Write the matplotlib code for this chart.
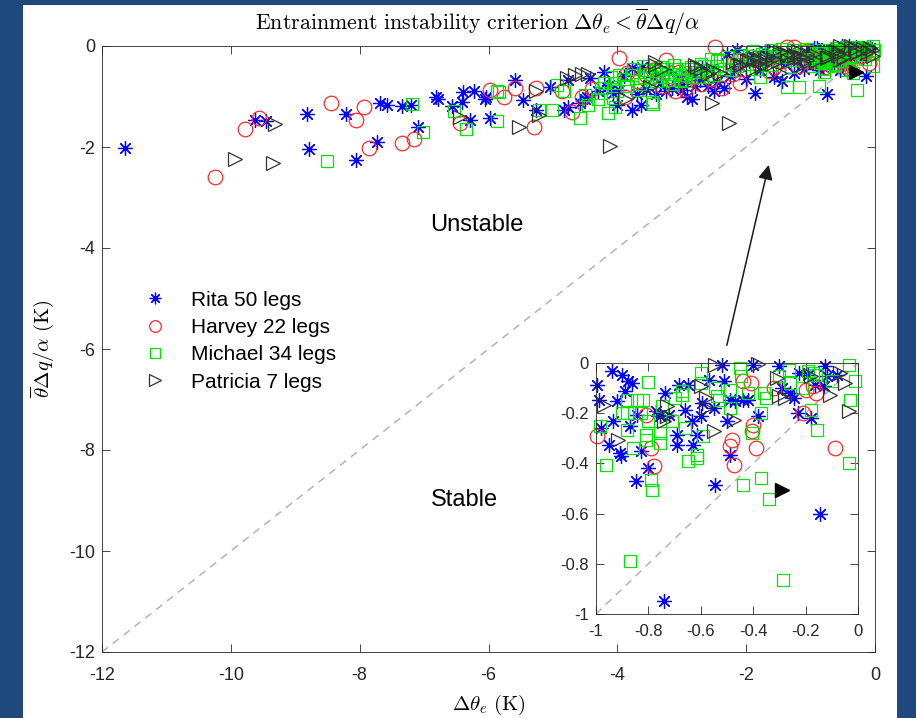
import numpy as np
import matplotlib.pyplot as plt
from matplotlib.patches import Rectangle
from matplotlib.ticker import FormatStrFormatter

plt.rcParams['mathtext.fontset'] = 'cm'
plt.rcParams['axes.unicode_minus'] = False
plt.rcParams['font.family'] = ['Liberation Sans', 'DejaVu Sans']

# (delta theta_e, thetabar*delta q/alpha) pairs in K
rita = [
    (-11.64, -2.01), (-9.63, -1.47), (-9.46, -1.48), (-8.82, -1.35), (-8.78, -2.03),
    (-8.21, -1.35), (-8.06, -2.26), (-7.73, -1.91), (-7.69, -1.13), (-7.58, -1.17),
    (-7.34, -1.19), (-7.21, -1.17), (-7.10, -1.61), (-6.81, -1.00), (-6.79, -1.05),
    (-6.56, -1.19), (-6.41, -1.10), (-6.40, -0.92), (-6.23, -0.90), (-6.28, -1.47),
    (-6.04, -1.00), (-5.97, -1.43), (-6.05, -1.04), (-5.59, -0.67), (-5.46, -1.07),
    (-5.27, -1.27), (-5.04, -0.81), (-4.83, -1.27), (-4.76, -0.67), (-4.58, -1.13),
    (-4.47, -1.00), (-4.21, -0.51), (-4.16, -0.81), (-4.01, -1.17), (-3.77, -1.27),
    (-3.64, -1.17), (-3.62, -0.41), (-4.76, -1.20), (-4.50, -1.04), (-4.42, -0.64),
    (-4.13, -0.77), (-4.06, -0.94), (-3.98, -0.87), (-3.77, -0.44), (-3.33, -0.74),
    (-3.15, -0.84), (-2.99, -0.87), (-2.92, -1.00), (-2.84, -1.04), (-2.71, -0.67),
    (-2.68, -0.41), (-2.45, -0.71), (-2.35, -0.84), (-2.30, -0.15), (-2.14, -0.08),
    (-2.19, -0.48), (-1.86, -0.94), (-1.78, -0.48), (-1.57, -0.61), (-1.26, -0.54),
    (-3.45, -0.62), (-3.05, -0.60), (-2.85, -0.55), (-1.95, -0.30), (-1.65, -0.25),
    (-1.40, -0.35), (-1.15, -0.22), (-3.20, -0.50), (-2.55, -0.45), (-2.00, -0.65),
    (-1.45, -0.70), (-1.10, -0.45), (-3.70, -0.95), (-3.55, -0.85), (-3.40, -0.95),
    (-3.25, -0.90), (-3.00, -0.75), (-2.80, -0.80), (-2.60, -0.80), (-2.50, -0.90),
    (-2.25, -0.60), (-2.10, -0.40), (-1.90, -0.20), (-1.70, -0.10), (-1.50, -0.15),
    (-1.30, -0.10), (-1.20, -0.30), (-1.05, -0.20), (-4.30, -0.90), (-3.90, -0.60),
    (-0.995, -0.086), (-0.99, -0.146), (-0.98, -0.26), (-0.95, -0.325), (-0.94, -0.03),
    (-0.935, -0.23), (-0.92, -0.153), (-0.91, -0.36), (-0.905, -0.37), (-0.90, -0.046),
    (-0.877, -0.073), (-0.864, -0.08), (-0.89, -0.113), (-0.87, -0.25), (-0.845, -0.206),
    (-0.83, -0.35), (-0.847, -0.47), (-0.80, -0.42), (-0.77, -0.19), (-0.755, -0.21),
    (-0.736, -0.12), (-0.72, -0.206), (-0.69, -0.285), (-0.69, -0.325), (-0.685, -0.086),
    (-0.65, -0.086), (-0.66, -0.186), (-0.635, -0.23), (-0.63, -0.325), (-0.615, -0.285),
    (-0.74, -0.95), (-0.60, -0.21), (-0.596, -0.16), (-0.57, -0.066), (-0.55, -0.18),
    (-0.545, -0.485), (-0.52, -0.007), (-0.51, -0.073), (-0.50, -0.23), (-0.49, -0.365),
    (-0.49, -0.146), (-0.47, -0.153), (-0.44, -0.146), (-0.42, -0.146), (-0.40, -0.007),
    (-0.38, -0.21), (-0.30, -0.013), (-0.29, -0.10), (-0.26, -0.12), (-0.245, -0.14),
    (-0.23, -0.20), (-0.227, -0.04), (-0.19, -0.046), (-0.18, -0.22), (-0.144, -0.60),
    (-0.13, -0.093), (-0.125, -0.013), (-0.12, -0.053), (-0.08, -0.046), (-0.163, -0.086),
]
harvey = [
    (-10.24, -2.59), (-9.78, -1.64), (-9.57, -1.43), (-8.44, -1.13), (-8.06, -1.47),
    (-7.93, -1.20), (-7.86, -2.02), (-7.34, -1.93), (-7.16, -1.85), (-6.45, -1.53),
    (-5.97, -0.87), (-5.76, -1.00), (-5.59, -0.84), (-5.30, -1.60), (-5.27, -0.84),
    (-4.86, -0.90), (-4.70, -1.30), (-3.98, -0.24), (-3.85, -0.54), (-3.88, -1.00),
    (-3.56, -0.57), (-3.44, -0.48), (-3.25, -0.28), (-3.10, -0.90), (-3.05, -0.51),
    (-2.48, -0.01), (-2.37, -0.84), (-2.09, -0.74), (-1.93, -0.21), (-1.36, -0.01),
    (-1.26, -0.01), (-1.57, -0.41), (-2.80, -0.62), (-2.20, -0.55), (-1.10, -0.30),
    (-3.70, -0.70), (-3.30, -0.80), (-2.95, -0.85), (-2.70, -0.75), (-2.55, -0.65),
    (-2.15, -0.30), (-1.80, -0.35), (-1.65, -0.50), (-1.45, -0.30), (-1.20, -0.40),
    (-1.05, -0.10), (-4.40, -0.85), (-4.55, -1.00),
    (-0.995, -0.29), (-0.81, -0.206), (-0.79, -0.34), (-0.78, -0.41), (-0.44, -0.073),
    (-0.41, -0.08), (-0.48, -0.305), (-0.49, -0.33), (-0.475, -0.405), (-0.40, -0.246),
    (-0.405, -0.27), (-0.39, -0.34), (-0.32, -0.10), (-0.20, -0.106), (-0.16, -0.12),
    (-0.21, -0.20), (-0.087, -0.34), (-0.17, -0.09),
]
michael = [
    (-8.51, -2.28), (-7.19, -1.15), (-7.02, -1.71), (-6.54, -1.29), (-6.35, -1.64),
    (-5.87, -0.90), (-5.87, -1.49), (-5.84, -0.92), (-5.22, -1.27), (-5.02, -1.27),
    (-4.94, -0.77), (-4.58, -1.43), (-4.50, -0.98), (-4.26, -0.84), (-4.14, -1.33),
    (-4.07, -1.02), (-3.46, -1.10), (-4.03, -1.20), (-4.45, -1.17), (-4.83, -0.90),
    (-4.26, -0.94), (-4.21, -0.74), (-4.05, -0.74), (-3.98, -0.57), (-3.77, -0.57),
    (-3.69, -0.87), (-3.51, -0.87), (-3.44, -1.14), (-3.59, -0.61), (-3.33, -0.41),
    (-3.23, -0.61), (-3.12, -0.38), (-3.02, -0.67), (-2.86, -0.61), (-2.71, -0.48),
    (-2.61, -0.61), (-2.55, -0.25), (-2.40, -0.28), (-2.24, -0.48), (-1.98, -0.35),
    (-1.78, -0.61), (-1.67, -0.28), (-1.36, -0.81), (-1.18, -0.81), (-1.26, -0.28),
    (-1.95, -0.20), (-1.75, -0.15), (-1.55, -0.22), (-1.40, -0.12), (-1.20, -0.18),
    (-1.10, -0.10), (-2.20, -0.35), (-2.05, -0.25), (-2.90, -0.45), (-3.40, -0.70),
    (-3.65, -0.75), (-3.85, -0.80), (-3.30, -0.55), (-2.70, -0.35), (-3.15, -0.75),
    (-2.95, -0.52), (-3.55, -0.48), (-1.60, -0.38), (-1.30, -0.42), (-1.85, -0.45),
    (-2.45, -0.40), (-3.75, -0.45), (-3.60, -0.40), (-3.50, -0.55), (-3.40, -0.50),
    (-3.35, -0.62), (-3.25, -0.45), (-3.20, -0.68), (-3.10, -0.55), (-3.05, -0.45),
    (-3.00, -0.58), (-2.95, -0.70), (-2.85, -0.42), (-2.80, -0.52), (-2.75, -0.62),
    (-2.65, -0.40), (-2.60, -0.50), (-2.50, -0.58), (-2.45, -0.30), (-2.35, -0.45),
    (-2.30, -0.22), (-2.15, -0.40), (-2.10, -0.18), (-1.90, -0.10), (-1.80, -0.25),
    (-1.70, -0.20), (-1.62, -0.08), (-1.50, -0.18), (-1.45, -0.05), (-1.35, -0.22),
    (-1.25, -0.08), (-1.15, -0.28), (-1.05, -0.05), (-3.90, -0.65), (-4.00, -0.90),
    (-4.30, -1.05), (-4.10, -0.62),
    (-0.985, -0.25), (-0.96, -0.405), (-0.90, -0.20), (-0.88, -0.20), (-0.88, -0.146),
    (-0.88, -0.266), (-0.86, -0.34), (-0.845, -0.146), (-0.82, -0.146), (-0.83, -0.20),
    (-0.80, -0.23), (-0.81, -0.285), (-0.81, -0.305), (-0.80, -0.077), (-0.79, -0.465),
    (-0.785, -0.505), (-0.87, -0.79), (-0.75, -0.173), (-0.755, -0.28), (-0.755, -0.32),
    (-0.71, -0.23), (-0.70, -0.14), (-0.67, -0.113), (-0.67, -0.126), (-0.66, -0.26),
    (-0.65, -0.39), (-0.615, -0.365), (-0.615, -0.38), (-0.60, -0.04), (-0.60, -0.08),
    (-0.59, -0.29), (-0.545, -0.10), (-0.54, -0.133), (-0.53, -0.146), (-0.49, -0.106),
    (-0.49, -0.18), (-0.45, -0.02), (-0.445, -0.053), (-0.44, -0.485), (-0.42, -0.12),
    (-0.405, -0.28), (-0.37, -0.46), (-0.36, -0.12), (-0.35, -0.14), (-0.37, -0.20),
    (-0.34, -0.54), (-0.30, -0.053), (-0.265, -0.027), (-0.26, -0.08), (-0.285, -0.863),
    (-0.19, -0.033), (-0.18, -0.186), (-0.17, -0.04), (-0.16, -0.046), (-0.155, -0.266),
    (-0.10, -0.073), (-0.035, -0.007), (-0.01, -0.073), (-0.03, -0.146), (-0.035, -0.40),
    (-0.215, -0.10),
]
patricia = [
    (-9.94, -2.24), (-9.31, -1.54), (-9.35, -2.32), (-6.44, -1.41), (-5.53, -1.60),
    (-5.22, -1.37), (-5.27, -0.90), (-4.78, -0.64), (-4.65, -0.58), (-4.55, -0.55),
    (-4.45, -0.55), (-4.11, -1.99), (-3.41, -0.31), (-3.49, -0.81), (-3.88, -1.04),
    (-2.76, -0.41), (-2.53, -1.13), (-2.27, -1.53), (-2.40, -0.54), (-2.20, -0.31),
    (-2.08, -0.38), (-1.95, -0.28), (-1.82, -0.25), (-1.70, -0.28), (-1.58, -0.25),
    (-1.47, -0.12), (-1.47, -0.54), (-1.36, -0.18), (-1.25, -0.20), (-1.15, -0.22),
    (-1.05, -0.28), (-3.41, -0.38), (-2.79, -0.38), (-2.51, -0.48),
    (-2.09, -0.38), (-1.99, -0.30), (-1.88, -0.26), (-1.78, -0.28), (-1.67, -0.24),
    (-1.57, -0.10), (-1.36, -0.15), (-1.26, -0.18), (-1.16, -0.21), (-1.05, -0.15),
    (-2.70, -0.45), (-2.60, -0.55), (-3.30, -0.45), (-1.90, -0.45), (-1.75, -0.40),
    (-1.60, -0.35), (-1.50, -0.30), (-1.35, -0.30), (-1.20, -0.10), (-1.10, -0.35),
    (-0.545, -0.007), (-0.38, -0.005), (-0.97, -0.166), (-0.915, -0.305), (-0.73, -0.17),
    (-0.73, -0.21), (-0.74, -0.23), (-0.60, -0.09), (-0.58, -0.14), (-0.58, -0.18),
    (-0.55, -0.27), (-0.475, -0.226), (-0.31, -0.06), (-0.30, -0.13), (-0.28, -0.14),
    (-0.105, -0.126), (-0.07, -0.04), (-0.05, -0.08), (-0.035, -0.19), (-0.18, -0.05),
]
highlight = [(-0.29, -0.505)]

labels = ['Rita 50 legs', 'Harvey 22 legs', 'Michael 34 legs', 'Patricia 7 legs']
main_ticks = [-12, -10, -8, -6, -4, -2, 0]
inset_ticks = [-1, -0.8, -0.6, -0.4, -0.2, 0]

styles = [
    dict(marker=(8, 2, 0), ms=10.5, mec='#0000ff', mew=0.9),
    dict(marker='o', ms=10.5, mfc='none', mec='#ff2a2a', mew=0.9),
    dict(marker='s', ms=8.5, mfc='none', mec='#00e600', mew=0.9),
    dict(marker='>', ms=10.5, mfc='none', mec='#333333', mew=0.9),
]


def draw_points(ax, lo, hi):
    handles = []
    for pts, st, lab in zip([rita, harvey, michael, patricia], styles, labels):
        x, y = np.array(pts).T
        keep = (x >= lo) & (x <= hi) & (y >= lo) & (y <= hi)
        h, = ax.plot(x[keep], y[keep], ls='none', label=lab, clip_on=False, **st)
        handles.append(h)
    hx, hy = np.array(highlight).T
    ax.plot(hx, hy, ls='none', marker='>', ms=10.5, color='black', clip_on=False)
    ax.plot([lo, hi], [lo, hi], ls=(0, (5, 4)), color='#b4b4b4', lw=1.1, zorder=1)
    return handles


def style_axes(ax, ticks, size, xpad):
    ax.set_xlim(ticks[0], ticks[-1])
    ax.set_ylim(ticks[0], ticks[-1])
    ax.set_xticks(ticks)
    ax.set_yticks(ticks)
    ax.xaxis.set_major_formatter(FormatStrFormatter('%g'))
    ax.yaxis.set_major_formatter(FormatStrFormatter('%g'))
    ax.tick_params(direction='in', top=True, right=True, length=6, width=0.6,
                   color='#262626', labelcolor='#262626', labelsize=size, pad=5)
    ax.tick_params(axis='x', pad=xpad)
    for sp in ax.spines.values():
        sp.set_color('#262626')
        sp.set_linewidth(0.6)


fig = plt.figure(figsize=(9.16, 7.18), dpi=100, facecolor='#1f497d')
fig.add_artist(Rectangle((23 / 916, 0), 874 / 916, 713 / 718, transform=fig.transFigure,
                         facecolor='white', edgecolor='none', zorder=-10))

ax = fig.add_axes([102 / 916, 1 - 652 / 718, 773 / 916, 606 / 718])
handles = draw_points(ax, -12, 0)
style_axes(ax, main_ticks, 13, 11)

ax.set_xlabel(r'$\Delta\theta_e\ (\mathrm{K})$', fontsize=15)
ax.set_ylabel(r'$\overline{\theta}\Delta q/\alpha\ (\mathrm{K})$', fontsize=15)
ax.xaxis.set_label_coords(0.5, -0.068)
ax.yaxis.set_label_coords(-0.06, 0.5)
fig.text(478 / 916, 1 - 22 / 718,
         r'$\mathrm{Entrainment\ instability\ criterion}\ \Delta\theta_e < \overline{\theta}\Delta q/\alpha$',
         ha='center', va='center', fontsize=15.8)

ax.text(-6.18, -3.54, 'Unstable', ha='center', va='center', fontsize=17)
ax.text(-6.38, -8.99, 'Stable', ha='center', va='center', fontsize=17)

ax.legend(handles=handles, loc='upper left', bbox_to_anchor=(126 / 916, 1 - 272 / 718),
          bbox_transform=fig.transFigure, frameon=False, fontsize=15, markerscale=0.8,
          handlelength=1.0, handletextpad=1.2, labelspacing=0.4, borderpad=0.4)

ax.annotate('', xy=(-1.64, -2.30), xytext=(-2.31, -5.98),
            arrowprops=dict(arrowstyle='-|>', color='#1a1a1a', lw=1.1, mutation_scale=22))

axin = fig.add_axes([596 / 916, 1 - 614 / 718, 262 / 916, 251 / 718])
draw_points(axin, -1, 0)
style_axes(axin, inset_ticks, 12, 7)

fig.savefig('out.png', dpi=100, facecolor=fig.get_facecolor())
